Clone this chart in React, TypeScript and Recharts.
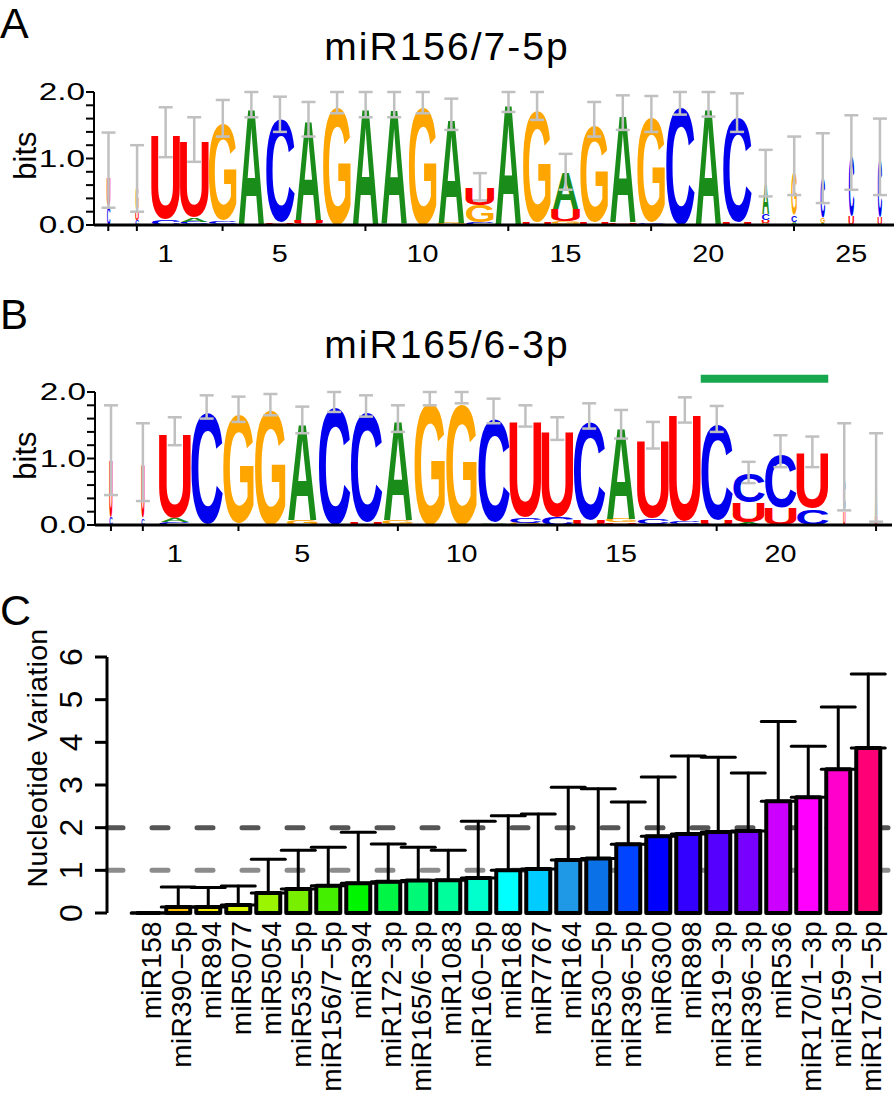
import React from "react";
import { BarChart, Bar, XAxis, YAxis, ErrorBar, ReferenceLine, ReferenceArea, Label } from "recharts";

const FONT = '"Liberation Sans", Arial, Helvetica, sans-serif';

// ---------- panel A: miR156/7-5p logo ----------
const posA = [-1, 0, 1, 2, 3, 4, 5, 6, 7, 8, 9, 10, 11, 12, 13, 14, 15, 16, 17, 18, 19, 20, 21, 22, 23, 24, 25, 26];
// letters of each stack, bottom to top
const stackA = ["CU", "CUG", "CU", "GCAU", "UCG", "A", "GUC", "GUA", "G", "CA", "UA", "G", "GA", "CGU", "UA", "UG", "CGUA", "UG", "CUA", "UCG", "C", "A", "UC", "GUCA", "ACG", "AGC", "UC", "UC"];
const bitsA = [
  [0.28, 0.44], [0.08, 0.14, 0.36], [0.08, 1.3], [0.02, 0.03, 0.06, 1.17], [0.02, 0.04, 1.51],
  [1.8], [0.01, 0.02, 1.62], [0.02, 0.05, 1.51], [1.83], [0.01, 1.77], [0.02, 1.76], [1.83],
  [0.03, 1.6], [0.04, 0.26, 0.27], [0.01, 1.84], [0.04, 1.74], [0.02, 0.04, 0.18, 0.56],
  [0.04, 1.51], [0.02, 0.02, 1.64], [0.02, 0.02, 1.64], [1.83], [1.79], [0.03, 1.64],
  [0.03, 0.04, 0.1, 0.45], [0.05, 0.1, 0.65], [0.03, 0.08, 0.62], [0.14, 0.93], [0.12, 0.88],
];
const errA = [
  [0.26, 1.39], [0.2, 1.2], [1.02, 1.77], [0.95, 1.62], [1.33, 1.88], [1.62, 2.0], [1.4, 1.93],
  [1.33, 1.85], [1.68, 2.0], [1.62, 2.0], [1.62, 2.0], [1.68, 2.0], [1.43, 1.9], [0.37, 0.78],
  [1.7, 2.0], [1.58, 2.0], [0.53, 1.07], [1.33, 1.85], [1.43, 1.95], [1.4, 1.94], [1.66, 2.0],
  [1.63, 2.0], [1.4, 1.98], [0.43, 1.13], [0.45, 1.33], [0.33, 1.38], [0.53, 1.65], [0.45, 1.6],
];
// fraction of sequences covering the position (letter width)
const covA = [0.12, 0.12, 1, 1, 1, 1, 1, 1, 1, 1, 1, 1, 1, 1, 1, 1, 1, 1, 1, 1, 1, 1, 1, 0.27, 0.2, 0.16, 0.19, 0.15];
const labelsA = [1, 5, 10, 15, 20, 25];
const marksA = [-1, 0, 3, 8, 13, 18, 23];

// ---------- panel B: miR165/6-3p logo ----------
const posB = [-1, 0, 1, 2, 3, 4, 5, 6, 7, 8, 9, 10, 11, 12, 13, 14, 15, 16, 17, 18, 19, 20, 21, 22, 23];
const stackB = ["CU", "CU", "CAU", "UC", "AG", "G", "GA", "C", "UC", "UGA", "G", "G", "UAC", "GCU", "CU", "UC", "CUGA", "GCU", "ACU", "UC", "AUC", "UC", "CU", "UC", "UA"];
const bitsB = [
  [0.12, 0.88], [0.1, 0.82], [0.04, 0.06, 1.29], [0.02, 1.73], [0.02, 1.7], [1.8], [0.08, 1.47],
  [1.83], [0.03, 1.72], [0.02, 0.05, 1.51], [1.9], [1.88], [0.02, 0.02, 1.62], [0.03, 0.08, 1.49],
  [0.12, 1.31], [0.07, 1.53], [0.02, 0.02, 0.05, 1.39], [0.02, 0.08, 1.2], [0.02, 0.03, 1.65],
  [0.07, 1.48], [0.04, 0.3, 0.46], [0.26, 0.83], [0.25, 0.85], [0.2, 0.5], [0.15, 0.45],
];
const errB = [
  [0.45, 1.8], [0.36, 1.53], [1.2, 1.62], [1.6, 1.95], [1.55, 1.93], [1.65, 1.97], [1.38, 1.78],
  [1.7, 2.0], [1.63, 1.95], [1.4, 1.8], [1.8, 2.0], [1.83, 2.0], [1.53, 1.9], [1.48, 1.8],
  [1.28, 1.62], [1.45, 1.83], [1.3, 1.73], [1.15, 1.55], [1.54, 1.92], [1.4, 1.79], [0.63, 0.95],
  [0.87, 1.35], [0.87, 1.33], [0.22, 1.53], [0.05, 1.38],
];
const covB = [0.1, 0.1, 1, 1, 1, 1, 1, 1, 1, 1, 1, 1, 1, 1, 1, 1, 1, 1, 1, 1, 1, 1, 1, 0.07, 0.07];
const labelsB = [1, 5, 10, 15, 20];
const marksB = [-1, 0, 3, 8, 13, 18, 23];

// ---------- panel C: nucleotide variation ----------
const mirNames = [
  "miR158", "miR390\u22125p", "miR894", "miR5077", "miR5054", "miR535\u22125p", "miR156/7\u22125p", "miR394",
  "miR172\u22123p", "miR165/6\u22123p", "miR1083", "miR160\u22125p", "miR168", "miR7767", "miR164",
  "miR530\u22125p", "miR396\u22125p", "miR6300", "miR898", "miR319\u22123p", "miR396\u22123p", "miR536",
  "miR170/1\u22123p", "miR159\u22123p", "miR170/1\u22125p",
];
const meanVar = [0, 0.14, 0.14, 0.19, 0.47, 0.56, 0.64, 0.7, 0.73, 0.76, 0.77, 0.82, 1.0, 1.03, 1.24, 1.28, 1.61, 1.8, 1.85, 1.9, 1.92, 2.62, 2.71, 3.37, 3.87];
const sdVar = [0, 0.47, 0.46, 0.44, 0.79, 0.91, 0.9, 1.19, 0.89, 0.78, 0.7, 1.33, 1.28, 1.29, 1.71, 1.63, 0.99, 1.39, 1.83, 1.75, 1.36, 1.87, 1.2, 1.46, 1.73];
const barColors = [
  "#ff0000", "#ffc000", "#f5ea00", "#d8f500", "#9cf500", "#78ee00", "#44f000", "#00f500", "#00f545",
  "#00fa78", "#00ff9c", "#00ffcc", "#00ffff", "#00ccff", "#1f98e6", "#0a72e6", "#0044ff", "#0000ff",
  "#3300ff", "#5500ff", "#7700ff", "#cc00ff", "#ff00ff", "#ff00cc", "#ff0077",
];

const LETTER_COLORS: Record<string, string> = { A: "#1a8c1a", C: "#0000ee", G: "#ffa500", U: "#ff0000" };
const GLYPH: Record<string, { x0: number; x1: number; top: number; bot: number }> = {
  A: { x0: 0.0, x1: 0.722, top: 0.716, bot: 0 },
  C: { x0: 0.044, x1: 0.674, top: 0.728, bot: 0.012 },
  G: { x0: 0.046, x1: 0.72, top: 0.728, bot: 0.012 },
  U: { x0: 0.073, x1: 0.649, top: 0.716, bot: 0.012 },
};

function buildRows(pos: number[], stacks: string[], bits: number[][], errs: number[][], cov: number[]) {
  return pos.map((p, i) => {
    const row: any = { pos: p, cov: cov[i] };
    const letters = stacks[i].split("");
    const pad = 4 - letters.length;
    let top = 0;
    for (let k = 0; k < 4; k++) {
      const j = k - pad;
      row["s" + k] = j >= 0 ? bits[i][j] : 0;
      row["l" + k] = j >= 0 ? letters[j] : "";
      top += row["s" + k];
    }
    row.err = [Math.max(0, top - errs[i][0]), Math.max(0, errs[i][1] - top)];
    return row;
  });
}

const rowsA = buildRows(posA, stackA, bitsA, errA, covA);
const rowsB = buildRows(posB, stackB, bitsB, errB, covB);
const rowsC = mirNames.map((name, i) => ({ name, mean: meanVar[i], sd: [0, sdVar[i]] }));

const letterShape = (k: number) => (props: any) => {
  const { x, y, width, height, payload } = props;
  const letter = payload && payload["l" + k];
  if (!letter || !(height > 0)) return <g />;
  const m = GLYPH[letter];
  const S = 100;
  const w = width * 0.94 * payload.cov;
  const left = x + (width - w) / 2;
  const sx = w / ((m.x1 - m.x0) * S);
  const sy = height / ((m.top + m.bot) * S);
  const tx = left - m.x0 * S * sx;
  const ty = y + m.top * S * sy;
  return (
    <text
      transform={`translate(${tx},${ty}) scale(${sx},${sy})`}
      fontSize={S}
      fontFamily={FONT}
      fontWeight="bold"
      fill={LETTER_COLORS[letter]}
    >
      {letter}
    </text>
  );
};

const BitsTick = (props: any) => {
  const { x, y, payload } = props;
  const v = payload.value;
  if (Math.abs(v - Math.round(v)) > 1e-6) return <g />;
  return (
    <text transform={`translate(${x},${y}) scale(1.45,1)`} textAnchor="end" dy="0.36em" fontSize={23} fontFamily={FONT} fill="#000">
      {v.toFixed(1)}
    </text>
  );
};

const PosTick = (props: any) => {
  const { x, y, payload, labels, marks } = props;
  const v = payload.value;
  return (
    <g>
      {marks.includes(v) && <line x1={x} x2={x} y1={y} y2={y + 6} stroke="#000" strokeWidth={2} />}
      {labels.includes(v) && (
        <text transform={`translate(${x},${y + 37}) scale(1.25,1)`} textAnchor="middle" fontSize={23} fontFamily={FONT} fill="#000">
          {v}
        </text>
      )}
    </g>
  );
};

const bitsLabel = (props: any) => {
  const vb = props.viewBox;
  return (
    <text transform={`translate(${vb.x + 36},${vb.y + vb.height / 2 - 3}) rotate(-90)`} textAnchor="middle" fontSize={31} fontFamily={FONT} fill="#000">
      bits
    </text>
  );
};

const yTicks = [0, 0.2, 0.4, 0.6, 0.8, 1, 1.2, 1.4, 1.6, 1.8, 2];

function Logo({ rows, yWidth, right, labels, marks, children }: any) {
  return (
    <BarChart width={895} height={270} data={rows} margin={{ top: 92, right, bottom: 0, left: 0 }} barCategoryGap={0} barGap={0}>
      <XAxis
        dataKey="pos"
        type="category"
        interval={0}
        tickSize={0}
        tickMargin={0}
        tickLine={false}
        axisLine={{ stroke: "#000", strokeWidth: 3 }}
        height={45}
        tick={<PosTick labels={labels} marks={marks} />}
      />
      <YAxis
        type="number"
        domain={[0, 2]}
        ticks={yTicks}
        interval={0}
        width={yWidth}
        tickSize={8}
        tickMargin={1}
        axisLine={{ stroke: "#000", strokeWidth: 2 }}
        tickLine={{ stroke: "#000", strokeWidth: 2 }}
        tick={<BitsTick />}
      >
        <Label content={bitsLabel} />
      </YAxis>
      {children}
      <Bar dataKey="s0" stackId="logo" shape={letterShape(0)} isAnimationActive={false} />
      <Bar dataKey="s1" stackId="logo" shape={letterShape(1)} isAnimationActive={false} />
      <Bar dataKey="s2" stackId="logo" shape={letterShape(2)} isAnimationActive={false} />
      <Bar dataKey="s3" stackId="logo" shape={letterShape(3)} isAnimationActive={false}>
        <ErrorBar dataKey="err" stroke="#c0c0c0" strokeWidth={2.5} width={7} />
      </Bar>
    </BarChart>
  );
}

const VarBar = (props: any) => {
  const { x, y, width, height, index } = props;
  if (!(height > 0)) {
    return <line x1={x} x2={x + width} y1={y} y2={y} stroke="#000" strokeWidth={4} />;
  }
  return <rect x={x} y={y} width={width} height={height} fill={barColors[index]} stroke="#000" strokeWidth={4} strokeLinejoin="round" />;
};

const VarYTick = (props: any) => {
  const { x, y, payload } = props;
  return (
    <text transform={`translate(${x},${y}) rotate(-90)`} textAnchor="middle" fontSize={32} fontFamily={FONT} fill="#000">
      {payload.value}
    </text>
  );
};

const NameTick = (props: any) => {
  const { x, y, payload } = props;
  return (
    <text transform={`translate(${x + 13},${y + 8}) rotate(-90)`} textAnchor="end" fontSize={28} letterSpacing={0.3} fontFamily={FONT} fill="#000">
      {payload.value}
    </text>
  );
};

const varLabel = (props: any) => {
  const vb = props.viewBox;
  return (
    <text transform={`translate(${vb.x + 47},${vb.y + vb.height / 2 - 27}) rotate(-90)`} textAnchor="middle" fontSize={28.5} letterSpacing={0.3} fontFamily={FONT} fill="#000">
      Nucleotide Variation
    </text>
  );
};

export default function App() {
  return (
    <div style={{ position: "absolute", left: 0, top: 0, width: 895, height: 1101, background: "#fff", fontFamily: FONT }}>
      <div style={{ position: "absolute", left: 0, top: 0 }}>
        <Logo rows={rowsA} yWidth={94} right={1} labels={labelsA} marks={marksA} />
      </div>
      <div style={{ position: "absolute", left: 0, top: 300 }}>
        <Logo rows={rowsB} yWidth={95} right={3} labels={labelsB} marks={marksB}>
          <ReferenceArea x1={18} x2={21} y1={2.14} y2={2.26} fill="#17a84f" fillOpacity={1} stroke="none" ifOverflow="visible" />
        </Logo>
      </div>
      <div style={{ position: "absolute", left: 0, top: 600 }}>
        <BarChart width={895} height={501} data={rowsC} margin={{ top: 57, right: 2, bottom: 0, left: 0 }} barCategoryGap={3.25}>
          <ReferenceLine y={2} stroke="#555555" strokeWidth={5} strokeDasharray="16 29" strokeLinecap="round" zIndex={-50} />
          <ReferenceLine y={1} stroke="#8c8c8c" strokeWidth={5} strokeDasharray="16 29" strokeLinecap="round" zIndex={-50} />
          <XAxis
            dataKey="name"
            type="category"
            interval={0}
            axisLine={false}
            tickLine={false}
            tickSize={0}
            tickMargin={0}
            height={188}
            padding={{ left: 26, right: 10 }}
            tick={<NameTick />}
          />
          <YAxis
            type="number"
            domain={[0, 6]}
            ticks={[0, 1, 2, 3, 4, 5, 6]}
            interval={0}
            width={107}
            tickSize={12}
            tickMargin={13}
            axisLine={{ stroke: "#000", strokeWidth: 3 }}
            tickLine={{ stroke: "#000", strokeWidth: 3 }}
            tick={<VarYTick />}
          >
            <Label content={varLabel} />
          </YAxis>
          <Bar dataKey="mean" shape={VarBar} isAnimationActive={false}>
            <ErrorBar dataKey="sd" stroke="#000" strokeWidth={3} width={17} strokeLinecap="round" />
          </Bar>
        </BarChart>
      </div>
      <svg width={895} height={1101} style={{ position: "absolute", left: 0, top: 0, pointerEvents: "none" }}>
        <text x={0} y={38} fontSize={43} fontFamily={FONT}>A</text>
        <text x={447} y={60} fontSize={39} letterSpacing={2} textAnchor="middle" fontFamily={FONT}>miR156/7-5p</text>
        <text x={0} y={329} fontSize={42} fontFamily={FONT}>B</text>
        <text x={447} y={358} fontSize={39} letterSpacing={2} textAnchor="middle" fontFamily={FONT}>miR165/6-3p</text>
        <text x={0} y={625} fontSize={43} fontFamily={FONT}>C</text>
      </svg>
    </div>
  );
}
